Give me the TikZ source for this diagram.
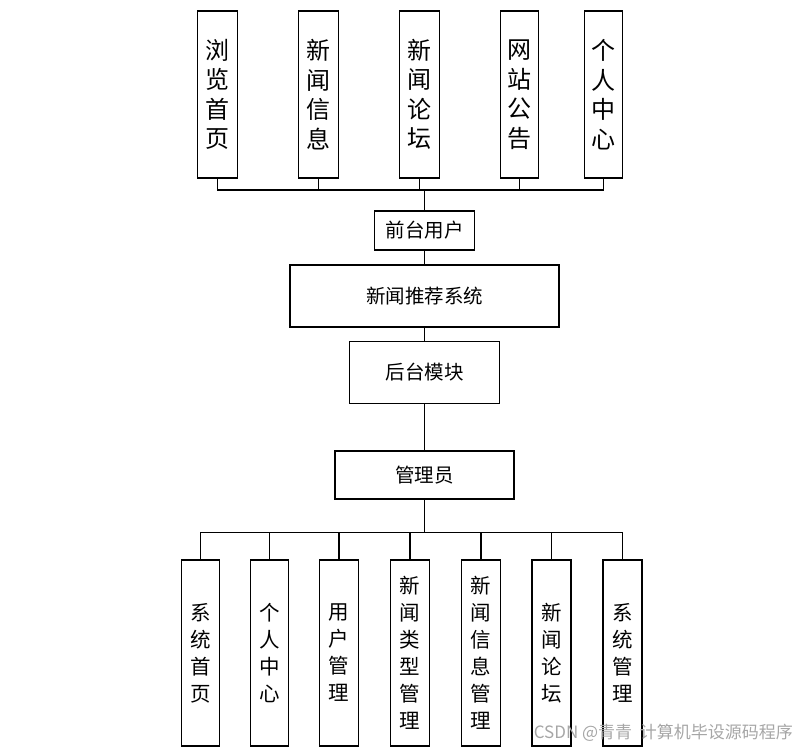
\documentclass[tikz,border=0pt]{standalone}
\usepackage{fontspec}
\newfontfamily\cjk{Noto Sans CJK SC}
\begin{document}
\begin{tikzpicture}[x=1pt,y=-1pt,
  box/.style={draw=black,line width=1.5pt,rectangle,inner sep=0pt,align=center,font=\cjk},
  topbox/.style={box,minimum width=40pt,minimum height=167pt,font=\cjk\fontsize{24}{29.5}\selectfont},
  midbox/.style={box,font=\cjk\fontsize{19.5}{22}\selectfont},
  botbox/.style={box,minimum width=39pt,minimum height=186pt,font=\cjk\fontsize{20.5}{27}\selectfont},
  conn/.style={line width=1.5pt}]
\useasboundingbox (0,0) rectangle (808,752);
% top modules
\node[topbox] (t1) at (217.5,94.5) {浏\\览\\首\\页};
\node[topbox] (t2) at (318.5,94.5) {新\\闻\\信\\息};
\node[topbox] (t3) at (419.5,94.5) {新\\闻\\论\\坛};
\node[topbox,minimum width=38pt] (t4) at (519.5,94.5) {网\\站\\公\\告};
\node[topbox,minimum width=38pt] (t5) at (603.7,94.5) {个\\人\\中\\心};
% middle
\node[midbox,minimum width=100pt,minimum height=39pt] (fr) at (424.7,230.5) {前台用户};
\node[midbox,minimum width=269pt,minimum height=62pt] (sys) at (424.7,296) {新闻推荐系统};
\node[midbox,minimum width=150pt,minimum height=62pt] (bk) at (424.7,372.5) {后台模块};
\node[midbox,minimum width=179pt,minimum height=48pt] (adm) at (424.7,475) {管理员};
% bottom modules
\node[botbox,minimum width=38pt] (b1) at (200.7,653) {系\\统\\首\\页};
\node[botbox,minimum width=38pt] (b2) at (269.3,653) {个\\人\\中\\心};
\node[botbox] (b3) at (339,653) {用\\户\\管\\理};
\node[botbox] (b4) at (409.8,653) {新\\闻\\类\\型\\管\\理};
\node[botbox] (b5) at (480.8,653) {新\\闻\\信\\息\\管\\理};
\node[botbox] (b6) at (551.7,653) {新\\闻\\论\\坛};
\node[botbox] (b7) at (622.5,653) {系\\统\\管\\理};
% connectors
\coordinate (busT) at (424.7,190);
\coordinate (busB) at (424.7,532.3);
\foreach \n in {t1,t2,t3,t4,t5} \draw[conn] (\n.south) |- (busT);
\draw[conn] (busT) -- (fr.north);
\draw[conn] (fr.south) -- (sys.north);
\draw[conn] (sys.south) -- (bk.north);
\draw[conn] (bk.south) -- (adm.north);
\draw[conn] (adm.south) -- (busB);
\foreach \n in {b1,b2,b3,b4,b5,b6,b7} \draw[conn] (\n.north) |- (busB);
% watermark
\node[anchor=east,inner sep=0pt,text=black!35,font=\cjk\fontsize{17}{20}\selectfont] (wm) at (793,733) {CSDN @青青\ \ 计算机毕设源码程序};
\end{tikzpicture}
\end{document}
